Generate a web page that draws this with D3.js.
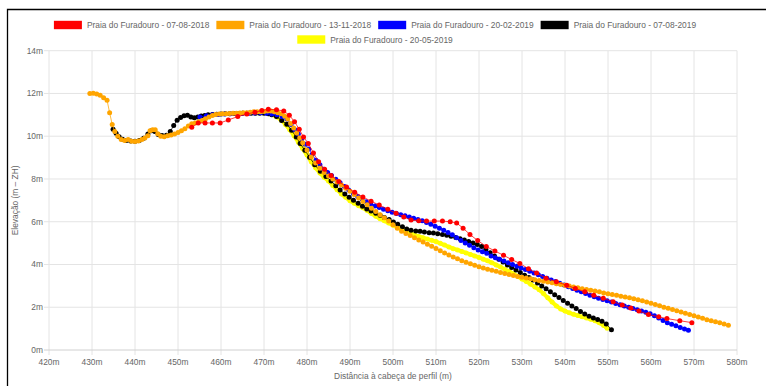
<!DOCTYPE html>
<html>
<head>
<meta charset="utf-8">
<script src="https://cdn.jsdelivr.net/npm/d3@7"></script>
<style>
  html, body { margin: 0; padding: 0; background: #fff; }
  svg { display: block; }
  text { font-family: "Liberation Sans", Arial, Helvetica, sans-serif; fill: #666; }
</style>
</head>
<body>
<div id="chart"></div>
<script>
// profile data: [distance (m), elevation (m ZH)]
const furadouro_07_08_2018 = [
  [453.2,10.42],[454.7,10.62],[456.3,10.62],[458.0,10.62],[459.8,10.62],[461.7,10.76],[463.9,10.92],
  [466.0,11.04],[467.9,11.12],[469.5,11.20],[471.0,11.26],[472.9,11.24],[474.6,11.18],[475.9,10.98],
  [477.1,10.68],[478.2,10.32],[479.2,9.96],[480.3,9.66],[481.5,9.22],[482.7,8.80],[484.1,8.46],
  [485.6,8.16],[487.4,7.88],[489.2,7.62],[491.1,7.38],[493.0,7.16],[494.9,6.96],[496.8,6.78],
  [498.8,6.58],[500.7,6.40],[502.5,6.22],[504.2,6.08],[506.0,6.04],[507.8,6.03],[509.6,6.03],
  [511.5,6.03],[513.3,6.00],[514.8,5.94],[516.3,5.70],[517.9,5.40],[519.7,5.12],[521.7,4.84],
  [523.7,4.63],[525.7,4.43],[527.6,4.23],[529.5,4.05],[531.5,3.80],[533.4,3.60],[535.6,3.36],
  [538.0,3.19],[540.4,3.03],[542.4,2.88],[544.6,2.72],[546.7,2.56],[548.9,2.42],[551.2,2.26],
  [553.3,2.10],[555.3,1.96],[557.2,1.82],[559.4,1.66],[561.8,1.55],[563.7,1.47],[566.7,1.37],
  [569.5,1.28]
];
const furadouro_13_11_2018 = [
  [429.5,12.00],[430.3,12.01],[431.1,11.98],[431.9,11.92],[432.7,11.80],[433.5,11.68],[434.1,11.10],
  [434.7,10.55],[435.3,10.22],[436.0,10.00],[436.8,9.85],[437.6,9.80],[438.4,9.85],[439.2,9.77],
  [440.0,9.75],[440.8,9.78],[441.6,9.85],[442.3,9.92],[443.0,10.02],[443.5,10.25],[444.1,10.30],
  [444.7,10.30],[445.3,10.12],[446.0,10.00],[446.8,9.98],[447.6,10.02],[448.4,10.06],[449.2,10.10],
  [450.0,10.17],[450.8,10.25],[451.6,10.35],[452.4,10.48],[453.2,10.58],[454.0,10.62],[454.8,10.68],
  [455.6,10.74],[456.4,10.82],[457.2,10.90],[458.0,10.97],[458.8,11.02],[459.6,11.04],[460.4,11.05],
  [461.2,11.05],[462.0,11.06],[462.8,11.07],[463.6,11.08],[464.4,11.09],[465.2,11.10],[466.0,11.10],
  [466.8,11.12],[467.6,11.14],[468.4,11.15],[469.2,11.15],[470.0,11.16],[470.8,11.18],[471.6,11.18],
  [472.4,11.15],[473.2,11.10],[474.0,11.05],[474.8,10.95],[475.5,10.80],[476.2,10.60],[476.9,10.38],
  [477.6,10.15],[478.3,9.92],[479.0,9.70],[480.0,9.35],[481.0,9.03],[482.0,8.75],[483.0,8.50],
  [484.0,8.30],[485.0,8.14],[486.0,8.00],[487.0,7.86],[488.0,7.72],[489.0,7.57],[490.0,7.42],
  [491.0,7.27],[492.0,7.11],[493.0,6.95],[494.0,6.79],[495.0,6.63],[496.0,6.48],[497.0,6.33],
  [498.0,6.19],[499.0,6.03],[500.0,5.86],[501.0,5.70],[502.0,5.56],[503.0,5.45],[504.0,5.35],
  [505.0,5.25],[506.0,5.15],[507.0,5.05],[508.0,4.95],[509.0,4.85],[510.0,4.75],[511.0,4.64],
  [512.0,4.54],[513.0,4.44],[514.0,4.35],[515.0,4.27],[516.0,4.18],[517.0,4.10],[518.0,4.03],
  [519.0,3.96],[520.0,3.89],[521.0,3.83],[522.0,3.78],[523.0,3.73],[524.0,3.68],[525.0,3.63],
  [526.0,3.58],[527.0,3.53],[528.0,3.48],[529.0,3.44],[530.0,3.40],[531.0,3.37],[532.0,3.33],
  [533.0,3.29],[534.0,3.25],[535.0,3.22],[536.0,3.18],[537.0,3.14],[538.0,3.10],[539.0,3.06],
  [540.0,3.03],[541.0,2.99],[542.0,2.95],[543.0,2.91],[544.0,2.87],[545.0,2.83],[546.0,2.80],
  [547.0,2.76],[548.0,2.72],[549.0,2.67],[550.0,2.63],[551.0,2.60],[552.0,2.56],[553.0,2.52],
  [554.0,2.48],[555.0,2.44],[556.0,2.40],[557.0,2.35],[558.0,2.30],[559.0,2.25],[560.0,2.19],
  [561.0,2.13],[562.0,2.07],[563.0,2.00],[564.0,1.95],[565.0,1.90],[566.0,1.84],[567.0,1.78],
  [568.0,1.72],[569.0,1.66],[570.0,1.60],[571.0,1.54],[572.0,1.48],[573.0,1.42],[574.0,1.37],
  [575.0,1.32],[576.0,1.27],[577.0,1.22],[578.0,1.16]
];
const furadouro_20_02_2019 = [
  [455.1,10.90],[456.6,10.96],[458.0,11.00],[459.4,11.02],[460.8,11.04],[462.2,11.05],[463.6,11.06],
  [465.0,11.07],[466.4,11.08],[467.8,11.09],[469.2,11.10],[470.6,11.08],[471.8,11.04],[473.0,11.00],
  [474.2,10.92],[475.3,10.80],[476.3,10.55],[477.2,10.30],[478.0,10.10],[478.8,9.88],[479.6,9.62],
  [480.4,9.40],[481.2,9.15],[482.1,8.88],[483.0,8.66],[483.9,8.46],[484.8,8.30],[485.7,8.16],
  [486.7,7.99],[487.7,7.82],[488.7,7.65],[489.7,7.48],[490.8,7.31],[491.8,7.18],[492.8,7.06],
  [493.8,6.94],[494.8,6.83],[495.8,6.74],[496.8,6.66],[497.8,6.58],[498.8,6.51],[499.8,6.44],
  [500.8,6.38],[501.8,6.33],[502.8,6.28],[503.8,6.22],[504.8,6.16],[505.8,6.10],[506.8,6.04],
  [507.8,5.96],[508.8,5.88],[509.8,5.79],[510.8,5.70],[511.8,5.60],[512.8,5.50],[513.8,5.39],
  [514.8,5.25],[515.8,5.12],[516.8,5.00],[517.8,4.90],[518.8,4.78],[519.8,4.68],[520.8,4.60],
  [521.8,4.52],[522.8,4.40],[523.8,4.32],[524.8,4.24],[525.8,4.16],[526.8,4.08],[527.8,4.00],
  [528.8,3.92],[529.8,3.84],[530.8,3.76],[531.8,3.68],[532.8,3.60],[533.8,3.52],[534.8,3.44],
  [535.8,3.36],[536.8,3.28],[537.8,3.20],[538.8,3.12],[539.8,3.04],[540.8,2.96],[541.8,2.88],
  [542.8,2.80],[543.8,2.72],[544.8,2.64],[545.8,2.56],[546.8,2.49],[547.8,2.42],[548.8,2.36],
  [549.8,2.30],[550.8,2.24],[551.8,2.18],[552.8,2.12],[553.8,2.06],[554.8,2.00],[555.8,1.94],
  [556.8,1.88],[557.8,1.82],[558.8,1.76],[559.8,1.70],[560.8,1.60],[561.8,1.50],[562.8,1.38],
  [563.8,1.28],[564.8,1.20],[565.8,1.13],[566.8,1.05],[567.8,0.98],[568.7,0.92]
];
const furadouro_07_08_2019 = [
  [434.9,10.32],[435.6,10.14],[436.3,9.98],[437.1,9.86],[438.0,9.80],[439.0,9.78],[440.0,9.76],
  [441.0,9.80],[442.0,9.90],[443.0,10.10],[443.8,10.25],[444.6,10.22],[445.4,10.08],[446.3,10.03],
  [447.3,10.04],[448.2,10.22],[449.0,10.50],[449.8,10.75],[450.6,10.88],[451.4,10.96],[452.2,10.98],
  [453.0,10.90],[453.8,10.86],[454.6,10.90],[455.4,10.94],[456.2,10.97],[457.0,11.00],[458.0,11.02],
  [459.0,11.03],[460.0,11.04],[461.0,11.05],[462.0,11.05],[463.0,11.06],[464.0,11.06],[465.0,11.07],
  [466.0,11.07],[467.0,11.08],[468.0,11.08],[469.0,11.08],[470.0,11.08],[471.0,11.05],[471.8,11.00],
  [472.9,10.92],[474.1,10.74],[475.3,10.56],[476.4,10.28],[477.5,9.96],[478.4,9.66],[479.5,9.34],
  [480.6,9.02],[481.8,8.66],[483.1,8.36],[484.4,8.12],[485.6,7.90],[486.7,7.68],[487.7,7.48],
  [488.8,7.30],[489.8,7.14],[490.8,7.00],[491.9,6.86],[492.9,6.72],[493.9,6.60],[494.9,6.50],
  [496.0,6.40],[497.0,6.30],[498.0,6.20],[499.1,6.10],[500.1,5.99],[501.1,5.88],[502.2,5.76],
  [503.2,5.66],[504.2,5.60],[505.3,5.57],[506.3,5.55],[507.3,5.52],[508.4,5.49],[509.4,5.47],
  [510.4,5.44],[511.5,5.40],[512.5,5.37],[513.5,5.32],[514.6,5.26],[515.6,5.20],[516.6,5.14],
  [517.6,5.07],[518.6,5.00],[519.6,4.93],[520.6,4.84],[521.6,4.70],[522.6,4.55],[523.6,4.40],
  [524.6,4.25],[525.6,4.12],[526.6,3.98],[527.6,3.86],[528.6,3.74],[529.6,3.62],[530.6,3.50],
  [531.6,3.39],[532.6,3.27],[533.6,3.13],[534.6,2.99],[535.6,2.86],[536.6,2.72],[537.6,2.58],
  [538.6,2.45],[539.6,2.32],[540.6,2.19],[541.6,2.06],[542.6,1.94],[543.6,1.80],[544.6,1.68],
  [545.6,1.58],[546.6,1.50],[547.6,1.43],[548.6,1.34],[549.6,1.22],[550.8,0.95]
];
const furadouro_20_05_2019 = [
  [471.0,11.05],[472.0,11.00],[473.0,10.90],[474.0,10.75],[475.0,10.55],[476.0,10.30],[477.0,10.02],
  [478.0,9.72],[479.0,9.42],[480.0,9.12],[481.0,8.80],[482.0,8.52],[483.0,8.28],[484.0,8.08],
  [485.0,7.90],[486.0,7.70],[487.0,7.50],[488.0,7.30],[489.0,7.14],[490.0,6.98],[491.0,6.86],
  [492.0,6.75],[493.0,6.65],[494.0,6.52],[495.0,6.38],[496.0,6.26],[497.0,6.14],[498.0,6.04],
  [499.0,5.94],[500.0,5.84],[501.0,5.74],[502.0,5.63],[503.0,5.54],[504.0,5.46],[505.0,5.38],
  [506.0,5.31],[507.0,5.25],[508.0,5.19],[509.0,5.13],[510.0,5.07],[511.0,4.99],[512.0,4.91],
  [513.0,4.82],[514.0,4.74],[515.0,4.68],[516.0,4.61],[517.0,4.54],[518.0,4.47],[519.0,4.40],
  [520.0,4.33],[521.0,4.25],[522.0,4.17],[523.0,4.08],[524.0,3.98],[525.0,3.88],[526.0,3.78],
  [527.0,3.68],[528.0,3.57],[529.0,3.45],[530.0,3.32],[531.0,3.20],[532.0,3.08],[533.0,2.95],
  [534.0,2.82],[535.0,2.64],[536.0,2.44],[537.0,2.24],[538.0,2.06],[539.0,1.92],[540.0,1.82],
  [541.0,1.74],[542.0,1.67],[543.0,1.61],[544.0,1.55],[545.0,1.50],[546.0,1.44],[547.0,1.37],
  [548.0,1.27],[549.0,1.15],[549.8,1.02]
];

const seriesLabels = [
  "Praia do Furadouro - 07-08-2018",
  "Praia do Furadouro - 13-11-2018",
  "Praia do Furadouro - 20-02-2019",
  "Praia do Furadouro - 07-08-2019",
  "Praia do Furadouro - 20-05-2019"
];
const seriesColors = ["#ff0000", "#ffa500", "#0000ff", "#000000", "#ffff00"];
const seriesData = [furadouro_07_08_2018, furadouro_13_11_2018, furadouro_20_02_2019,
                    furadouro_07_08_2019, furadouro_20_05_2019];

const xTicks = [420, 430, 440, 450, 460, 470, 480, 490, 500, 510, 520, 530, 540, 550, 560, 570, 580];
const yTicks = [0, 2, 4, 6, 8, 10, 12, 14];

const width = 766, height = 386;
const margin = { left: 49, right: 29, top: 50.7, bottom: 36 };

const svg = d3.select("#chart").append("svg")
  .attr("width", width)
  .attr("height", height);

const x = d3.scaleLinear().domain([420, 580]).range([margin.left, width - margin.right]);
const y = d3.scaleLinear().domain([0, 14]).range([height - margin.bottom, margin.top]);

// frame of the screenshot
svg.append("path")
  .attr("d", "M7.5," + height + "V9.5H" + width)
  .attr("fill", "none")
  .attr("stroke", "#000")
  .attr("stroke-width", 1.3);

// grid
const grid = svg.append("g");
grid.selectAll(".vx").data(xTicks).enter().append("line")
  .attr("x1", d => x(d)).attr("x2", d => x(d))
  .attr("y1", y(14)).attr("y2", y(0) + 5)
  .attr("stroke", "#e4e4e4").attr("stroke-width", 1);
grid.selectAll(".hy").data(yTicks).enter().append("line")
  .attr("x1", x(420) - 5).attr("x2", x(580))
  .attr("y1", d => y(d)).attr("y2", d => y(d))
  .attr("stroke", d => d === 0 ? "#d0d0d0" : "#e4e4e4").attr("stroke-width", 1);

// tick labels
svg.append("g").selectAll("text").data(xTicks).enter().append("text")
  .attr("x", d => x(d)).attr("y", y(0) + 14.5)
  .attr("text-anchor", "middle")
  .style("font-size", "8.4px")
  .text(d => d + "m");
svg.append("g").selectAll("text").data(yTicks).enter().append("text")
  .attr("x", x(420) - 6).attr("y", d => y(d) + 3)
  .attr("text-anchor", "end")
  .style("font-size", "8.4px")
  .text(d => d + "m");

// axis titles
svg.append("text")
  .attr("x", (x(420) + x(580)) / 2).attr("y", 379)
  .attr("text-anchor", "middle")
  .style("font-size", "8.4px")
  .text("Distância à cabeça de perfil (m)");
svg.append("text")
  .attr("transform", "translate(18," + ((y(0) + y(14)) / 2) + ") rotate(-90)")
  .attr("text-anchor", "middle")
  .style("font-size", "8.4px")
  .text("Elevação (m – ZH)");

// series, drawn last-to-first so the first one ends on top
const line = d3.line().x(d => x(d[0])).y(d => y(d[1]));
d3.range(seriesData.length).reverse().forEach(i => {
  const g = svg.append("g");
  const isYellow = i === 4;
  g.append("path")
    .datum(seriesData[i])
    .attr("fill", "none")
    .attr("stroke", seriesColors[i])
    .attr("stroke-opacity", isYellow ? 1 : 0.75)
    .attr("stroke-width", isYellow ? 4 : 1)
    .attr("stroke-linejoin", "round")
    .attr("d", line);
  g.selectAll("circle").data(seriesData[i]).enter().append("circle")
    .attr("cx", d => x(d[0]))
    .attr("cy", d => y(d[1]))
    .attr("r", 2.5)
    .attr("fill", seriesColors[i]);
});

// legend (centered, wraps to second row)
const boxW = 28, boxH = 8.4, gap = 5, itemPad = 7, legendCenter = 375;
const rows = [[0, 1, 2, 3], [4]];
const rowY = [25, 39.5];
rows.forEach((row, r) => {
  const items = row.map(i => {
    const t = svg.append("text")
      .style("font-size", "8.4px")
      .attr("dominant-baseline", "central")
      .attr("y", rowY[r])
      .text(seriesLabels[i]);
    return { i, t, w: boxW + gap + t.node().getComputedTextLength() };
  });
  const total = d3.sum(items, d => d.w) + itemPad * (items.length - 1);
  let cx = legendCenter - total / 2;
  items.forEach(it => {
    svg.append("rect")
      .attr("x", cx).attr("y", rowY[r] - boxH / 2)
      .attr("width", boxW).attr("height", boxH)
      .attr("fill", seriesColors[it.i]);
    it.t.attr("x", cx + boxW + gap);
    cx += it.w + itemPad;
  });
});
</script>
</body>
</html>
